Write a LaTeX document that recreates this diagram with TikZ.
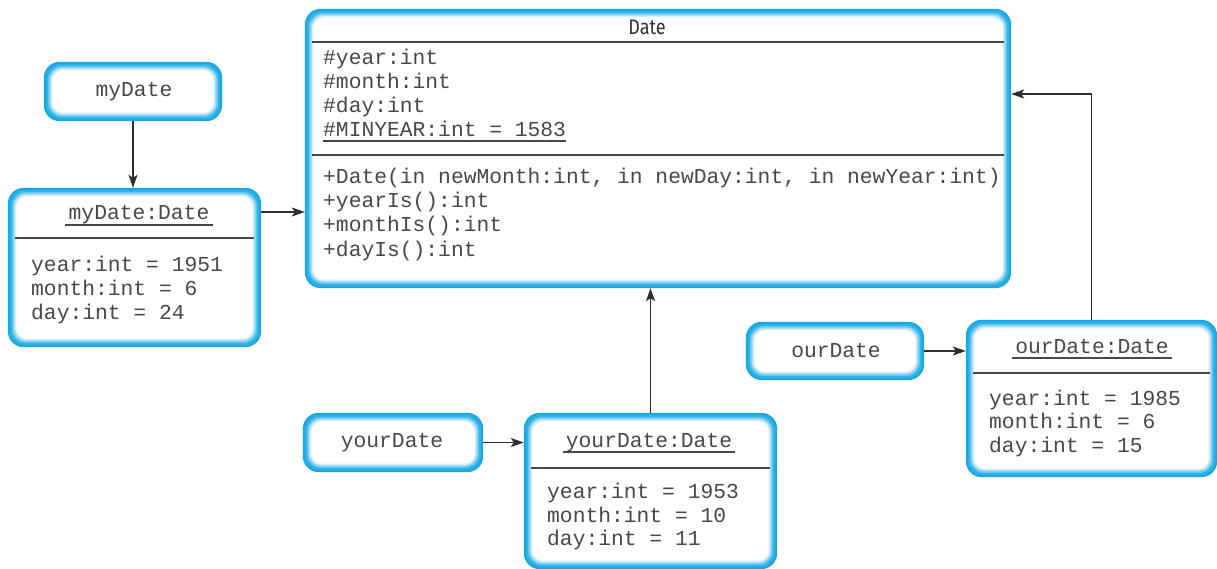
\documentclass[tikz,border=0pt]{standalone}
\usepackage{fontspec}
\setmainfont{Liberation Mono}
\newfontfamily\titlefont[FakeStretch=0.86]{Fira Sans}
\usetikzlibrary{arrows.meta,fit}
\definecolor{cA}{HTML}{1AA8E2}
\definecolor{cB}{HTML}{2FB1E6}
\definecolor{cC}{HTML}{62C5EE}
\definecolor{cD}{HTML}{A0DAF5}
\definecolor{cE}{HTML}{D8F0FB}
\definecolor{tgray}{HTML}{484848}
\definecolor{lgray}{HTML}{2E2E2E}
\tikzset{
  txt/.style={font=\fontsize{21.3}{24}\selectfont, text=tgray, inner sep=0pt, anchor=base west},
  ctxt/.style={txt, anchor=base},
  ttl/.style={font=\titlefont\fontsize{21}{24}\selectfont, text=lgray, inner sep=0pt, anchor=base},
  sepline/.style={draw=tgray, line width=1.4pt},
  ul/.style={draw=tgray, line width=1.3pt},
  arr/.style={draw=lgray, line width=1.4pt, -{Stealth[length=13pt,width=9pt,inset=3pt]}}
}
\newcommand\objbox[5]{%
  \node[fit={(#2,#3) (#4,#5)}, inner sep=0pt] (#1) {};
  \fill[cA, rounded corners=16pt] (#1.north west) rectangle (#1.south east);
  \fill[cB, rounded corners=15pt] ([shift={(2,2)}]#1.north west) rectangle ([shift={(-2,-2)}]#1.south east);
  \fill[cC, rounded corners=14pt] ([shift={(4,4)}]#1.north west) rectangle ([shift={(-4,-4)}]#1.south east);
  \fill[cD, rounded corners=13pt] ([shift={(5.5,5.5)}]#1.north west) rectangle ([shift={(-5.5,-5.5)}]#1.south east);
  \fill[cE, rounded corners=12pt] ([shift={(7,7)}]#1.north west) rectangle ([shift={(-7,-7)}]#1.south east);
  \fill[white, rounded corners=11pt] ([shift={(8.5,8.5)}]#1.north west) rectangle ([shift={(-8.5,-8.5)}]#1.south east);
}
\newcommand\ulnode[1]{%
  \draw[ul] ([xshift=-3pt,yshift=-5pt]#1.base west) -- ([xshift=3pt,yshift=-5pt]#1.base east);
}
\begin{document}
\begin{tikzpicture}[x=1pt,y=-1pt]
\useasboundingbox (0,0) rectangle (1217,569);

% boxes
\objbox{Date}{305}{9}{1011}{288}
\objbox{myDate}{44}{62}{222}{121}
\objbox{myDateObj}{8}{188}{261}{347}
\objbox{ourDate}{746}{322}{924}{380}
\objbox{ourObj}{966}{320}{1217}{477}
\objbox{yourDate}{303}{413}{483}{472}
\objbox{yourObj}{524}{413}{777}{569}

% Date class
\node[ttl] (tDate) at (647,35) {Date};
\draw[sepline] (312,42) -- (1004,42);
\node[txt] (a1) at (323,65) {\#year:int};
\node[txt] (a2) at (323,89) {\#month:int};
\node[txt] (a3) at (323,113) {\#day:int};
\node[txt] (a4) at (323,137) {\#MINYEAR:int = 1583};
\draw[ul] ([yshift=-4pt]a4.base west) -- ([yshift=-4pt]a4.base east);
\draw[sepline] (312,155) -- (1004,155);
\node[txt] (m1) at (323,184) {+Date(in newMonth:int, in newDay:int, in newYear:int)};
\node[txt] (m2) at (323,208) {+yearIs():int};
\node[txt] (m3) at (323,232) {+monthIs():int};
\node[txt] (m4) at (323,256) {+dayIs():int};

% myDate
\node[ctxt] (nMy) at (134,97) {myDate};
\node[ctxt] (tMy) at (139,220) {myDate:Date};
\ulnode{tMy}
\draw[sepline] (15,238) -- (254,238);
\node[txt] (my1) at (31,271) {year:int = 1951};
\node[txt] (my2) at (31,295) {month:int = 6};
\node[txt] (my3) at (31,319) {day:int = 24};

% ourDate
\node[ctxt] (nOur) at (836,357) {ourDate};
\node[ctxt] (tOur) at (1092,353) {ourDate:Date};
\ulnode{tOur}
\draw[sepline] (973,373) -- (1210,373);
\node[txt] (our1) at (989,405) {year:int = 1985};
\node[txt] (our2) at (989,428) {month:int = 6};
\node[txt] (our3) at (989,452) {day:int = 15};

% yourDate
\node[ctxt] (nYour) at (392,447) {yourDate};
\node[ctxt] (tYour) at (649,447) {yourDate:Date};
\ulnode{tYour}
\draw[sepline] (531,468) -- (770,468);
\node[txt] (your1) at (547,498) {year:int = 1953};
\node[txt] (your2) at (547,522) {month:int = 10};
\node[txt] (your3) at (547,545) {day:int = 11};

% connectors
\draw[arr] (myDate.south) -- (myDate.south |- myDateObj.north);
\draw[arr] (myDateObj.east |- 0,212) -- (Date.west |- 0,212);
\draw[arr] (yourDate.east) -- (yourDate.east -| yourObj.west);
\draw[arr] (yourObj.north) -- (yourObj.north |- Date.south);
\draw[arr] (ourDate.east) -- (ourDate.east -| ourObj.west);
\draw[arr] (ourObj.north) |- (Date.east |- 0,94);
\end{tikzpicture}
\end{document}
